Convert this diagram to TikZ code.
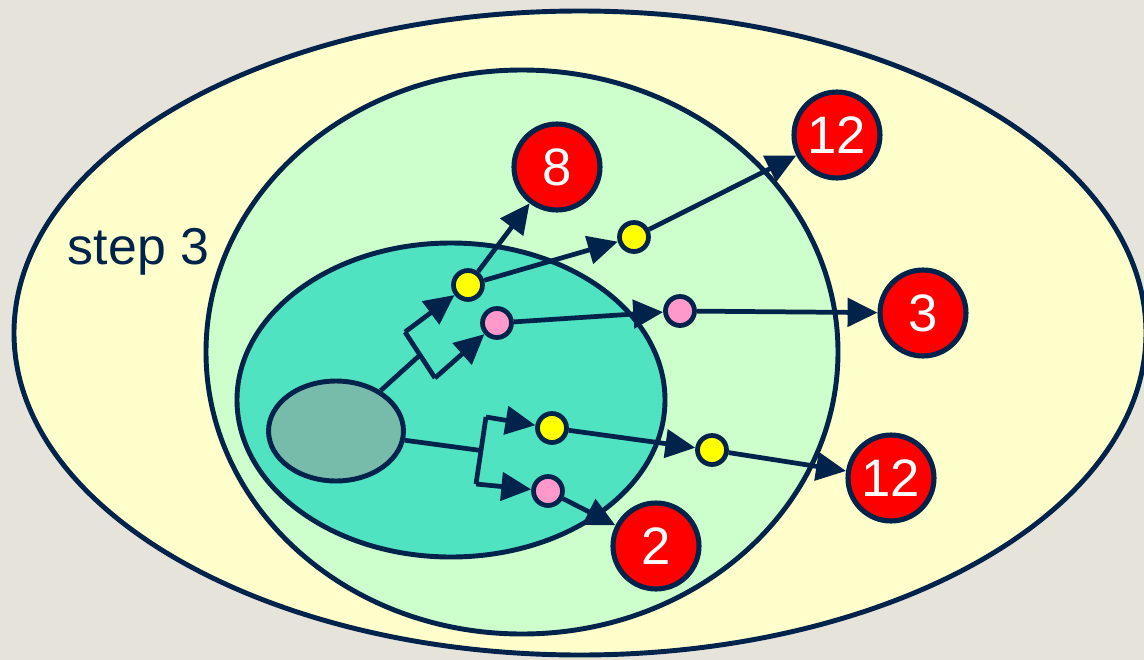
\documentclass[tikz,border=0pt]{standalone}
\usepackage{fontspec}
\setmainfont{Liberation Sans}
\usetikzlibrary{arrows.meta,shapes.geometric}
\definecolor{navy}{HTML}{00234B}
\definecolor{bgc}{HTML}{E6E4DA}
\definecolor{outerc}{HTML}{FFFFCC}
\definecolor{midc}{HTML}{CCFFCC}
\definecolor{innerc}{HTML}{50E3C2}
\definecolor{grayc}{HTML}{77BBAA}
\definecolor{ydotc}{HTML}{FFFF00}
\definecolor{pdotc}{HTML}{FF99CC}
\definecolor{redc}{HTML}{FF0000}
\begin{document}
\begin{tikzpicture}[x=0.02cm,y=-0.02cm,
  region/.style={draw=navy, line width=2.8pt},
  conn/.style={draw=navy, line width=2.7pt, -{Triangle[length=17pt,width=16pt]}},
  plain/.style={draw=navy, line width=2.7pt},
  dot/.style={circle, draw=navy, line width=2.7pt, minimum size=0.58cm, inner sep=0pt},
  ydot/.style={dot, fill=ydotc},
  pdot/.style={dot, fill=pdotc},
  num/.style={circle, draw=navy, fill=redc, line width=2.9pt, minimum size=1.72cm, inner sep=0pt, text=white, font=\fontsize{30}{30}\selectfont},
]
\useasboundingbox (0,0) rectangle (1144,660);
\fill[bgc] (0,0) rectangle (1144,660);
\begin{scope}
\clip (0,0) rectangle (1144,660);
\draw[region, fill=outerc] (580,333) ellipse [x radius=566, y radius=322];
\end{scope}
\draw[region, fill=midc] (522,352) ellipse [x radius=316, y radius=282];
\draw[region, fill=innerc] (451,400) ellipse [x radius=214, y radius=157];

\node[anchor=base, text=navy, font=\fontsize{29.5}{30}\selectfont] (lbl) at (138.5,264) {step 3};

\node[ellipse, draw=navy, line width=2.8pt, fill=grayc, minimum width=2.7cm, minimum height=2.0cm, inner sep=0pt] (g) at (336,431) {};

\node[ydot] (y1) at (468,285) {};
\node[pdot] (p1) at (497,323) {};
\node[ydot] (y2) at (634,237) {};
\node[pdot] (p2) at (680,311) {};
\node[ydot] (y3) at (552,428) {};
\node[ydot] (y4) at (712,450) {};
\node[pdot] (p3) at (548,491) {};

\node[num] (n8) at (557,167) {8};
\node[num] (n12a) at (837,135) {12};
\node[num] (n3) at (923,313) {3};
\node[num] (n12b) at (891,478) {12};
\node[num] (n2) at (656,546) {2};

\coordinate (b1t) at (405,332);
\coordinate (b1b) at (435,378);
\coordinate (b1m) at (420,355);
\coordinate (b2t) at (486,417);
\coordinate (b2b) at (476,484);
\coordinate (b2m) at (481,450.5);

\draw[plain] (g) -- (b1m);
\draw[plain] (b1t) -- (b1b);
\draw[conn] (b1t) -- (y1);
\draw[conn] (b1b) -- (p1);
\draw[plain] (g) -- (b2m);
\draw[plain] (b2t) -- (b2b);
\draw[conn] (b2t) -- (y3);
\draw[conn] (b2b) -- (p3);

\draw[conn] (y1) -- (n8);
\draw[conn] (y1) -- (y2);
\draw[conn] (y2) -- (n12a);
\draw[conn] (p1) -- (p2);
\draw[conn] (p2) -- (n3);
\draw[conn] (y3) -- (y4);
\draw[conn] (y4) -- (n12b);
\draw[conn] (p3) -- (n2);
\end{tikzpicture}
\end{document}
